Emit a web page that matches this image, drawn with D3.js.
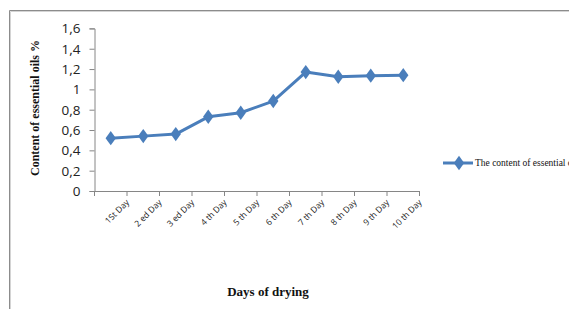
<!DOCTYPE html>
<html>
<head>
<meta charset="utf-8">
<script src="https://cdn.jsdelivr.net/npm/d3@7"></script>
<style>
  html, body { margin: 0; padding: 0; background: #fff; }
  svg { display: block; }
</style>
</head>
<body>
<div id="chart"></div>
<script>
// data
const days = ["1St Day", "2 ed Day", "3 ed Day", "4 th Day", "5 th Day", "6 th Day", "7 th Day", "8 th Day", "9 th Day", "10 th Day"];
const oilValues = [0.52, 0.54, 0.56, 0.73, 0.77, 0.885, 1.17, 1.125, 1.135, 1.14];
const yTicks = [0, 0.2, 0.4, 0.6, 0.8, 1, 1.2, 1.4, 1.6];
const seriesName = "The content of essential oils";

const width = 569, height = 309;
const blue = "#4a7ebb";
const axisGray = "#868686";

const svg = d3.select("#chart").append("svg")
  .attr("width", width)
  .attr("height", height);

// chart frame (only top and left edges show)
svg.append("path")
  .attr("d", `M9.5,${height}V10.5H${width}`)
  .attr("fill", "none")
  .attr("stroke", "#8c8c8c")
  .attr("stroke-width", 1);
svg.append("path")
  .attr("d", `M10.5,${height}V11.5H${width}`)
  .attr("fill", "none")
  .attr("stroke", "#d4d4d4")
  .attr("stroke-width", 1);

const x = d3.scaleBand()
  .domain(days)
  .range([94.5, 419.5]);

const y = d3.scaleLinear()
  .domain([0, 1.6])
  .range([191, 28.4]);

// y axis
const yAxis = svg.append("g")
  .attr("transform", "translate(94.5,0)")
  .call(d3.axisLeft(y).tickValues(yTicks).tickSize(5).tickPadding(9)
    .tickFormat(d => d3.format(".1~f")(d).replace(".", ",")));
yAxis.select(".domain").attr("stroke", axisGray);
yAxis.selectAll(".tick line").attr("stroke", axisGray);
yAxis.selectAll("text")
  .attr("font-family", "'Open Sans', 'Liberation Sans', sans-serif")
  .attr("font-size", 13.5)
  .attr("fill", "#222");

// x axis, ticks sit on the band edges
const xAxis = svg.append("g")
  .attr("transform", `translate(0,${y(0)})`)
  .call(d3.axisBottom(x).tickSize(0).tickSizeOuter(0).tickFormat(""));
xAxis.select(".domain").attr("stroke", axisGray);
const edges = days.map(d => x(d)).concat([x.range()[1]]);
xAxis.selectAll(".edge")
  .data(edges)
  .enter().append("line")
  .attr("x1", d => d).attr("x2", d => d)
  .attr("y1", 0).attr("y2", 5)
  .attr("stroke", axisGray);

svg.append("g").selectAll("text")
  .data(days)
  .enter().append("text")
  .attr("transform", d => `translate(${x(d) + x.bandwidth() / 2 + 19},${y(0) + 12}) rotate(-45)`)
  .attr("text-anchor", "end")
  .attr("font-family", "'Open Sans', 'Liberation Sans', sans-serif")
  .attr("font-size", 8.5)
  .attr("fill", "#222")
  .text(d => d);

// series line
const line = d3.line()
  .x((d, i) => x(days[i]) + x.bandwidth() / 2)
  .y(d => y(d));

svg.append("path")
  .datum(oilValues)
  .attr("d", line)
  .attr("fill", "none")
  .attr("stroke", blue)
  .attr("stroke-width", 3)
  .attr("stroke-linejoin", "round");

const diamond = d3.symbol().type(d3.symbolDiamond).size(60);
svg.append("g").selectAll("path")
  .data(oilValues)
  .enter().append("path")
  .attr("d", diamond)
  .attr("transform", (d, i) => `translate(${x(days[i]) + x.bandwidth() / 2},${y(d)}) scale(1.25,1)`)
  .attr("fill", blue);

// axis titles
svg.append("text")
  .attr("transform", "translate(39,108) rotate(-90)")
  .attr("text-anchor", "middle")
  .attr("font-family", "'Liberation Serif', 'Times New Roman', serif")
  .attr("font-weight", "bold")
  .attr("font-size", 12)
  .attr("fill", "#111")
  .text("Content of essential oils %");

svg.append("text")
  .attr("x", 268)
  .attr("y", 296)
  .attr("text-anchor", "middle")
  .attr("font-family", "'Liberation Serif', 'Times New Roman', serif")
  .attr("font-weight", "bold")
  .attr("font-size", 13)
  .attr("fill", "#111")
  .text("Days of drying");

// legend
const legend = svg.append("g").attr("transform", "translate(443,163)");
legend.append("line")
  .attr("x1", 0).attr("x2", 30)
  .attr("stroke", blue)
  .attr("stroke-width", 3);
legend.append("path")
  .attr("d", diamond)
  .attr("transform", "translate(16,0) scale(1.25,1)")
  .attr("fill", blue);
legend.append("text")
  .attr("x", 32)
  .attr("y", 3)
  .attr("font-family", "'Liberation Serif', 'Times New Roman', serif")
  .attr("font-size", 9.5)
  .attr("fill", "#111")
  .text(seriesName);
</script>
</body>
</html>
